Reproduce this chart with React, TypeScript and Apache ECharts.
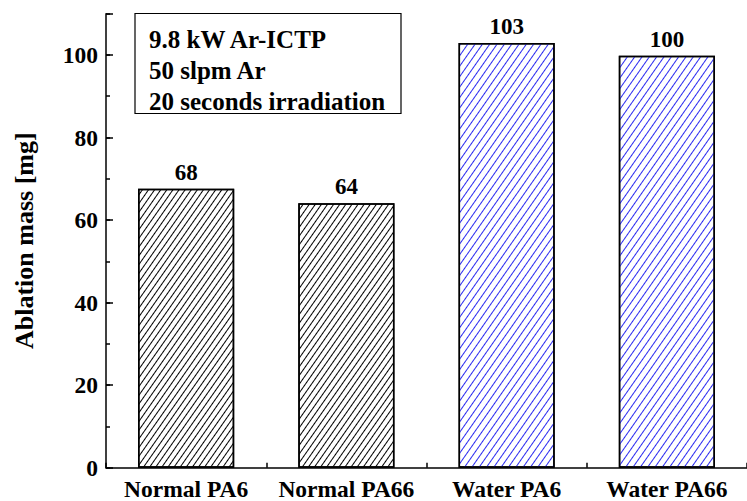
import React, { useEffect, useRef } from "react";
import * as echarts from "echarts";

const categories = ["Normal PA6", "Normal PA66", "Water PA6", "Water PA66"];
const values = [67.6, 64.1, 102.9, 99.8];
const hatchColors = ["#000000", "#000000", "#2a2af0", "#2a2af0"];
const hatchGaps = [3.4, 3.4, 4.8, 4.8];
const tickSlots = ["", "", "", "", "", "", "", ""];
const noteLines = ["9.8 kW Ar-ICTP", "50 slpm Ar", "20 seconds irradiation"];

const FONT = "Liberation Serif";

export default function App() {
  const ref = useRef<HTMLDivElement>(null);
  useEffect(() => {
    if (!ref.current) return;
    const chart = echarts.init(ref.current, null, { renderer: "svg" });
    const option: any = {
      animation: false,
      backgroundColor: "#ffffff",
      grid: { left: 106, top: 13.7, right: -7, bottom: 33.3, containLabel: false },
      xAxis: [
        {
          type: "category",
          data: categories,
          axisLine: { show: true, lineStyle: { color: "#000", width: 1.5 } },
          axisTick: { show: false },
          axisLabel: {
            color: "#000",
            fontFamily: FONT,
            fontWeight: "bold",
            fontSize: 23.5,
            margin: 9,
            interval: 0,
          },
          splitLine: { show: false },
        },
        {
          type: "category",
          data: tickSlots,
          position: "bottom",
          axisLine: { show: false },
          axisTick: { show: true, inside: true, length: 5, lineStyle: { color: "#000", width: 1.5 } },
          axisLabel: { show: false },
          splitLine: { show: false },
        },
      ],
      yAxis: [
        {
          type: "value",
          min: 0,
          max: 110,
          interval: 10,
          position: "left",
          name: "Ablation mass [mg]",
          nameLocation: "middle",
          nameGap: 69,
          nameTextStyle: { color: "#000", fontFamily: FONT, fontWeight: "bold", fontSize: 26 },
          axisLine: { show: true, lineStyle: { color: "#000", width: 1.5 } },
          axisTick: { show: true, inside: true, length: 4, lineStyle: { color: "#000", width: 1.5 } },
          axisLabel: {
            color: "#000",
            fontFamily: FONT,
            fontWeight: "bold",
            fontSize: 23.5,
            margin: 8,
            formatter: (v: number) => (v % 20 === 0 && v <= 100 ? String(v) : ""),
          },
          splitLine: { show: false },
        },
        {
          type: "value",
          min: 0,
          max: 110,
          interval: 20,
          position: "left",
          axisLine: { show: false },
          axisTick: { show: true, inside: true, length: 7, lineStyle: { color: "#000", width: 1.5 } },
          axisLabel: { show: false },
          splitLine: { show: false },
        },
      ],
      series: [
        {
          type: "bar",
          xAxisIndex: 0,
          yAxisIndex: 0,
          barWidth: "60%",
          data: values.map((v, i) => ({
            value: v,
            itemStyle: {
              color: "#ffffff",
              borderColor: "#000",
              borderWidth: 1.5,
              decal: {
                symbol: "rect",
                symbolSize: 1,
                color: hatchColors[i],
                backgroundColor: "#ffffff",
                dashArrayX: [10, 0],
                dashArrayY: [0.9, hatchGaps[i]],
                rotation: (-55 * Math.PI) / 180,
              },
            },
          })),
          label: {
            show: true,
            position: "top",
            distance: 5,
            color: "#000",
            fontFamily: FONT,
            fontWeight: "bold",
            fontSize: 23,
            formatter: (p: any) => String(Math.round(p.value)),
          },
        },
      ],
      graphic: [
        {
          type: "rect",
          shape: { x: 135, y: 13.5, width: 266, height: 100 },
          style: { fill: "#fff", stroke: "#000", lineWidth: 1.2 },
          z: 10,
        },
        ...noteLines.map((t, i) => ({
          type: "text",
          x: 149,
          y: 39 + i * 31,
          z: 11,
          style: {
            text: t,
            fill: "#000",
            font: `bold 25px ${FONT}`,
            verticalAlign: "middle",
          },
        })),
      ],
    };
    chart.setOption(option);
    return () => chart.dispose();
  }, []);
  return (
    <div
      ref={ref}
      style={{ position: "fixed", left: 0, top: 0, width: 747, height: 501, background: "#fff" }}
    />
  );
}
